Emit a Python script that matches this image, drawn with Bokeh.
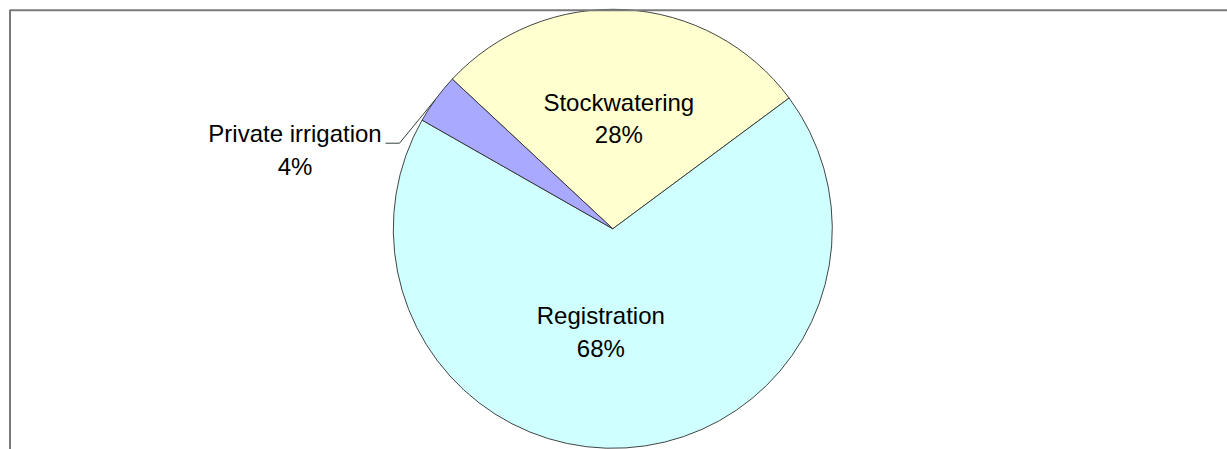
import math
from bokeh.plotting import figure
from bokeh.models import ColumnDataSource, Range1d
from bokeh.core.properties import value
from bokeh.embed import file_html
from bokeh.resources import INLINE

# Shares of licences by purpose (per cent), clockwise from the upper left
categories = ["Stockwatering", "Registration", "Private irrigation"]
shares = [27.9, 68.4, 3.7]
colors = ["#FFFFCF", "#CFFFFF", "#A9A9FF"]

W, H = 1227, 449

p = figure(width=W, height=H, output_backend="svg", toolbar_location=None,
           x_range=Range1d(0, W), y_range=Range1d(0, H),
           min_border=0, outline_line_color=None, background_fill_color="white")
p.axis.visible = False
p.grid.visible = False

# pie geometry (canvas pixels, y measured upwards)
cx, cy, R = 612.3, H - 228.3, 219.5
first_angle = 137.0  # degrees, counter-clockwise from +x

total = sum(shares)
starts, ends, mids = [], [], []
a = first_angle
for v in shares:
    sweep = 360.0 * v / total
    starts.append(math.radians(a))
    ends.append(math.radians(a - sweep))
    mids.append(math.radians(a - sweep / 2))
    a -= sweep

src = ColumnDataSource(dict(cat=categories, share=shares, color=colors,
                            start=starts, end=ends))
p.wedge(x=cx, y=cy, radius=R, start_angle="start", end_angle="end",
        direction="clock", fill_color="color", line_color="#303030",
        line_width=0.9, source=src)

# frame around the chart area
p.line(x=[9.5, 9.5, W + 20], y=[-20, H - 9.8, H - 9.8],
       line_color="#7a7a7a", line_width=2)

# data labels: name on the first line, percentage on the second
label_pos = {
    "Stockwatering": (618.3, 101.7),
    "Registration": (600.3, 315.0),
    "Private irrigation": (294.5, 133.3),
}
line_gap = 32.5
lx, ly1, ly2, names, pcts = [], [], [], [], []
for c, v in zip(categories, shares):
    x, yb = label_pos[c]
    lx.append(x)
    ly1.append(H - yb)
    ly2.append(H - yb - line_gap)
    names.append(c)
    pcts.append(f"{round(100 * v / total)}%")

lab = ColumnDataSource(dict(x=lx, y1=ly1, y2=ly2, name=names, pct=pcts))
for ycol, tcol in (("y1", "name"), ("y2", "pct")):
    p.text(x="x", y=ycol, text=tcol, source=lab,
           text_font=value("Liberation Sans"), text_font_size="24px",
           text_color="black", text_align="center", text_baseline="alphabetic")

# leader line for the small slice, ending on its rim at the mid angle
k = categories.index("Private irrigation")
ex = cx + R * math.cos(mids[k])
ey = cy + R * math.sin(mids[k])
p.line(x=[385, 399, ex], y=[H - 142.7, H - 142.7, ey],
       line_color="#2f3f3f", line_width=1)

open("out.html", "w").write(file_html(p, INLINE))
